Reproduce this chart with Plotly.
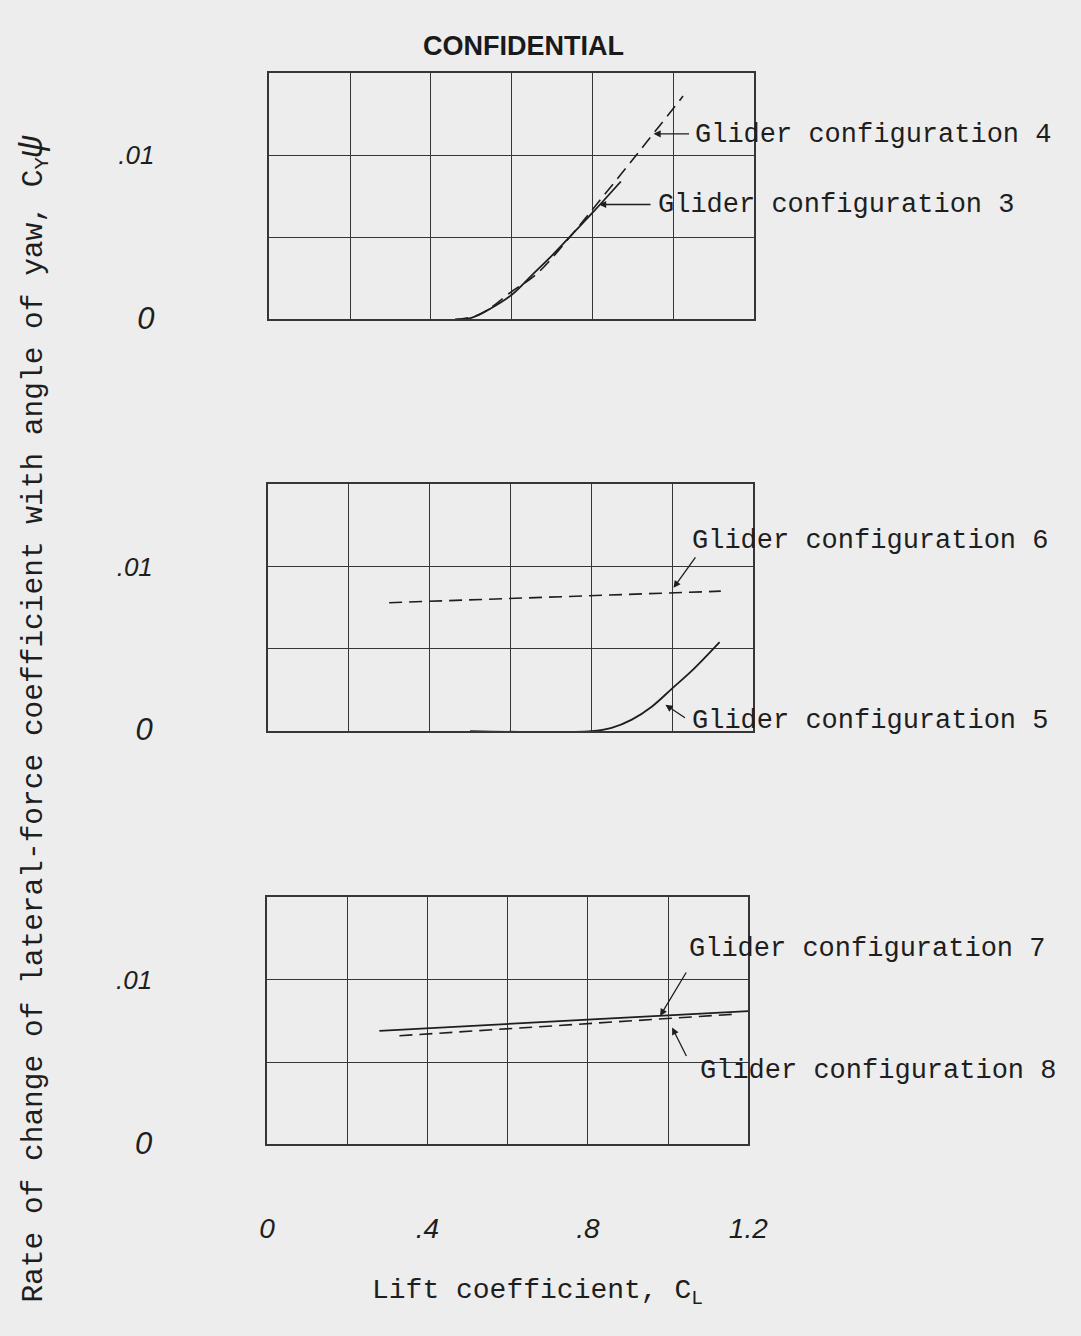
import plotly.graph_objects as go

# ---------------- data ----------------
# Top panel
cl_cfg3 = [0.46, 0.50, 0.55, 0.60, 0.65, 0.70, 0.75, 0.80, 0.87]
cy_cfg3 = [0.0, 0.0001, 0.0007, 0.0015, 0.0027, 0.0039, 0.0052, 0.0065, 0.0084]
cl_cfg4 = [0.46, 0.52, 0.60, 0.663, 0.75, 0.80, 0.908, 1.024]
cy_cfg4 = [0.0, 0.0003, 0.0017, 0.0028, 0.0052, 0.0067, 0.0100, 0.0136]
# Middle panel
cl_cfg5 = [0.50, 0.80, 0.85, 0.90, 0.95, 1.00, 1.05, 1.117]
cy_cfg5 = [0.0, 0.0, 0.0002, 0.0007, 0.0015, 0.0026, 0.0037, 0.0054]
cl_cfg6 = [0.30, 0.70, 1.12]
cy_cfg6 = [0.0078, 0.00815, 0.0085]
# Bottom panel
cl_cfg7 = [0.28, 0.70, 1.20]
cy_cfg7 = [0.0069, 0.00746, 0.0081]
cl_cfg8 = [0.33, 0.70, 1.16]
cy_cfg8 = [0.0066, 0.00718, 0.0079]

x_tickvals = [0, 0.2, 0.4, 0.6, 0.8, 1.0, 1.2]
x_ticktext = ["0", "", ".4", "", ".8", "", "1.2"]
y_tickvals = [0, 0.005, 0.01, 0.015]
y_ticktext = ["<span style='font-size:31px'>0</span>", "", ".01", ""]

labels = ["Glider configuration 3", "Glider configuration 4",
          "Glider configuration 5", "Glider configuration 6",
          "Glider configuration 7", "Glider configuration 8"]

# ---------------- figure ----------------
W, H = 1081, 1336
INK = "#1e1e1e"
GRID = "#363636"
BG = "#ededed"
MONO = "Liberation Mono, Courier New, monospace"
HAND = "Liberation Sans, Arial, sans-serif"


def px(x):
    return x / W


def py(y):
    return 1 - y / H


fig = go.Figure()

solid = dict(color=INK, width=1.8)
dashed = dict(color=INK, width=1.6, dash="13px,7px")

fig.add_trace(go.Scatter(x=cl_cfg3, y=cy_cfg3, mode="lines", line=dict(**solid, shape="spline"),
                         xaxis="x", yaxis="y", name=labels[0]))
fig.add_trace(go.Scatter(x=cl_cfg4, y=cy_cfg4, mode="lines", line=dict(**dashed, shape="spline"),
                         xaxis="x", yaxis="y", name=labels[1]))
fig.add_trace(go.Scatter(x=cl_cfg5, y=cy_cfg5, mode="lines", line=dict(**solid, shape="spline"),
                         xaxis="x2", yaxis="y2", name=labels[2]))
fig.add_trace(go.Scatter(x=cl_cfg6, y=cy_cfg6, mode="lines", line=dashed,
                         xaxis="x2", yaxis="y2", name=labels[3]))
fig.add_trace(go.Scatter(x=cl_cfg7, y=cy_cfg7, mode="lines", line=solid,
                         xaxis="x3", yaxis="y3", name=labels[4]))
fig.add_trace(go.Scatter(x=cl_cfg8, y=cy_cfg8, mode="lines", line=dashed,
                         xaxis="x3", yaxis="y3", name=labels[5]))

domains = {
    "1": ([px(268.3), px(766)], [py(323.3), py(74)]),
    "2": ([px(266.7), px(765)], [py(740), py(490)]),
    "3": ([px(266), px(760)], [py(1158.3), py(908.3)]),
}


def xaxis(dom, anchor, show_labels):
    return dict(domain=dom, anchor=anchor, range=[0, 1.2], tickmode="array",
                tickvals=x_tickvals, ticktext=x_ticktext, showticklabels=show_labels,
                ticks="", showgrid=True, gridcolor=GRID, gridwidth=1.3, zeroline=False,
                showline=True, linecolor=GRID, linewidth=1.5, mirror=True,
                ticklabelstandoff=58,
                tickfont=dict(family=HAND, size=28, color=INK, style="italic"),
                fixedrange=True)


def yaxis(dom, anchor):
    return dict(domain=dom, anchor=anchor, range=[0, 0.015], tickmode="array",
                tickvals=y_tickvals, ticktext=y_ticktext, showticklabels=True,
                ticks="", showgrid=True, gridcolor=GRID, gridwidth=1.3, zeroline=False,
                showline=True, linecolor=GRID, linewidth=1.5, mirror=True,
                ticklabelstandoff=108,
                tickfont=dict(family=HAND, size=26, color=INK, style="italic"),
                fixedrange=True)


annotations = []

# Arrows pointing at curves (head at data position, tail offset in pixels)
arrows = [
    ("x", "y", 0.951, 0.0113, 37, 0),     # config 4
    ("x", "y", 0.816, 0.0070, 53, 0),     # config 3
    ("x2", "y2", 1.003, 0.0087, 23, -32),  # config 6
    ("x2", "y2", 0.983, 0.0016, 21, 14),   # config 5
    ("x3", "y3", 0.980, 0.0078, 27, -45),  # config 7
    ("x3", "y3", 1.010, 0.0071, 15, 30),   # config 8
]
for xr, yr, xv, yv, ax, ay in arrows:
    annotations.append(dict(xref=xr, yref=yr, x=xv, y=yv, text="", showarrow=True,
                            ax=ax, ay=ay, arrowhead=2, arrowsize=1.1, arrowwidth=1.3,
                            arrowcolor=INK, standoff=0))

label_pos = [
    (labels[1], 703, 137),
    (labels[0], 665, 207),
    (labels[3], 700, 548),
    (labels[2], 700, 730),
    (labels[4], 697, 960),
    (labels[5], 708, 1084),
]
for txt, x0, y0 in label_pos:
    annotations.append(dict(xref="paper", yref="paper", x=px(x0), y=py(y0), text=txt,
                            showarrow=False, xanchor="left", yanchor="middle",
                            font=dict(family=MONO, size=27, color=INK)))

# Axis titles and header
annotations.append(dict(xref="paper", yref="paper", x=px(26), y=py(728),
                        text="Rate of change of lateral-force coefficient with angle of yaw, "
                             "C<sub>Y</sub><span style='font-size:36px'><i>ψ</i></span>",
                        textangle=-90, showarrow=False, xanchor="center", yanchor="middle",
                        font=dict(family=MONO, size=29.5, color=INK)))
annotations.append(dict(xref="paper", yref="paper", x=px(544), y=py(1308),
                        text="Lift coefficient, C<sub>L</sub>",
                        showarrow=False, xanchor="center", yanchor="middle",
                        font=dict(family=MONO, size=28, color=INK)))
annotations.append(dict(xref="paper", yref="paper", x=px(529), y=py(47),
                        text="<b>CONFIDENTIAL</b>",
                        showarrow=False, xanchor="center", yanchor="middle",
                        font=dict(family="Liberation Sans, Arial, sans-serif", size=27, color="#1a1a1a")))

fig.update_layout(
    width=W, height=H,
    margin=dict(l=0, r=0, t=0, b=0),
    paper_bgcolor=BG, plot_bgcolor=BG,
    showlegend=False,
    xaxis=xaxis(domains["1"][0], "y", False),
    yaxis=yaxis(domains["1"][1], "x"),
    xaxis2=xaxis(domains["2"][0], "y2", False),
    yaxis2=yaxis(domains["2"][1], "x2"),
    xaxis3=xaxis(domains["3"][0], "y3", True),
    yaxis3=yaxis(domains["3"][1], "x3"),
    annotations=annotations,
)

fig.write_html(
    "out.html",
    config={"displayModeBar": False},
    post_script="document.body.style.margin='0';document.body.style.overflow='hidden';"
                "document.body.style.background='#ededed';",
)
